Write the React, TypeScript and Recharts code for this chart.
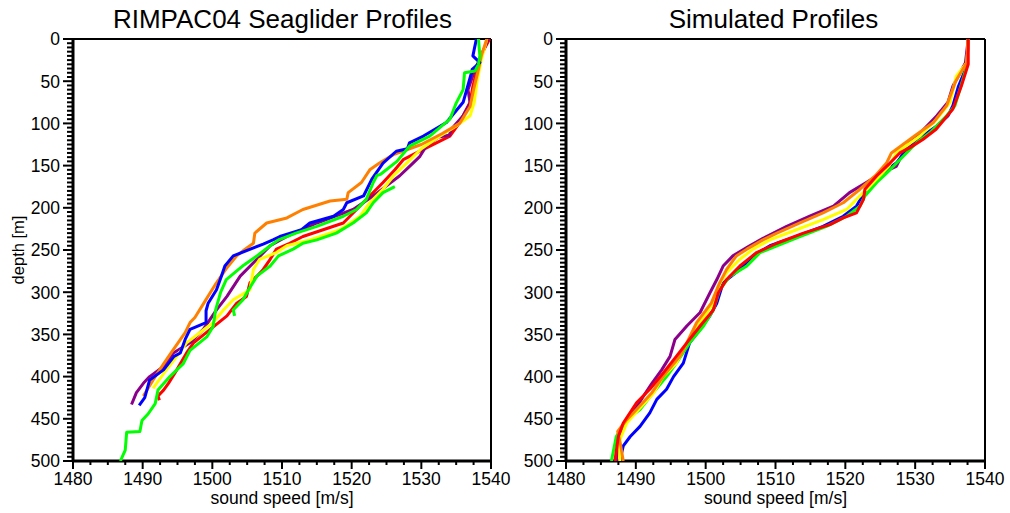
import React from 'react';
import { ScatterChart, Scatter, XAxis, YAxis, ReferenceLine, Label } from 'recharts';

// ---- axis ticks ----
const speedMajorTicks = [1480, 1490, 1500, 1510, 1520, 1530, 1540];
const depthMajorTicks = [0, 50, 100, 150, 200, 250, 300, 350, 400, 450, 500];
const speedTicks: number[] = [];
for (let v = 1480; v <= 1540; v += 2.5) speedTicks.push(v);
const depthTicks: number[] = [];
for (let v = 0; v <= 500; v += 5) depthTicks.push(v);

// ---- RIMPAC04 Seaglider profiles: [sound speed m/s, depth m] ----
const seaRed: [number, number][] = [[1539.8,0],[1538.5,20],[1538,36],[1537.4,56],[1537,75],[1535.5,99],[1534.1,115],[1529.3,135],[1527.4,143],[1526.2,155],[1524.5,170],[1522.6,186],[1520.7,202],[1518.8,218],[1513,234],[1511.1,242],[1509.2,249],[1508.3,261],[1507.3,273],[1506.4,281],[1505.4,289],[1504.9,305],[1503.5,313],[1502.1,328],[1499.7,344],[1497.3,360],[1496.3,372],[1494.9,392],[1493.7,408],[1493,416],[1492.2,423],[1492.4,428]];
const seaPurple: [number, number][] = [[1539.6,0],[1538.6,20],[1537.7,36],[1537.2,48],[1536.7,60],[1537,76],[1536,91],[1534.3,107],[1534,114],[1532.5,116],[1530.7,127],[1529.8,139],[1528.8,147],[1526.9,162],[1525,174],[1523.1,186],[1520.2,202],[1515,218],[1510.7,234],[1508.3,245],[1506.4,261],[1504,281],[1502.1,305],[1500.6,321],[1498.7,344],[1496.8,360],[1494.4,372],[1493,388],[1491,400],[1490.1,408],[1489.1,419],[1488.4,433]];
const seaYellow: [number, number][] = [[1539.4,0],[1538.6,25],[1538,50],[1537.6,75],[1537,91],[1535,103],[1532.7,115],[1530,130],[1527.9,147],[1526,162],[1524.5,178],[1522.6,194],[1521.2,210],[1518.3,226],[1514,238],[1510.7,245],[1509.2,253],[1506.8,261],[1505.9,273],[1505.4,297],[1503,309],[1501.6,321],[1500.1,336],[1498.2,348],[1496.3,360],[1494.9,376],[1493.4,392],[1492,408],[1491.5,414]];
const seaOrange: [number, number][] = [[1539.4,0],[1538.6,20],[1538.2,36],[1537.5,60],[1537,80],[1535.5,100],[1533,112],[1530,125],[1526,137],[1524,147],[1522.6,155],[1521.4,170],[1519.5,182],[1519.3,190],[1516.9,192],[1513,202],[1510.7,212],[1507.8,218],[1506.1,230],[1505.9,242],[1504.7,249],[1503.5,257],[1502,272],[1500.5,290],[1499,310],[1497.5,330],[1496.8,336],[1496.1,348],[1494.4,368],[1493,385],[1491.5,404],[1490.1,423]];
const seaBlue: [number, number][] = [[1537.9,0],[1537.4,20],[1538.4,28],[1537.3,36],[1537.2,40],[1536,75],[1533.6,99],[1530.3,115],[1528.3,123],[1528,130],[1526.4,133],[1524.5,147],[1522.9,166],[1521.7,186],[1519.3,194],[1518.8,202],[1517.4,210],[1514,218],[1512.8,226],[1509.7,234],[1508.7,238],[1507.3,243],[1503,257],[1501.8,269],[1501.3,281],[1500.6,297],[1499.4,313],[1499.1,322],[1499.1,336],[1496.8,344],[1496.1,356],[1495.4,372],[1494.5,376],[1493,392],[1491,404],[1490.6,416],[1490.3,425],[1489.5,434]];
const seaGreenA: [number, number][] = [[1538.2,0],[1538.4,20],[1538.2,30],[1537.7,38],[1536.2,40],[1536,60],[1535,76],[1534.1,95],[1531.2,115],[1528.3,127],[1526.5,145],[1524.2,160],[1523.6,162],[1523.1,170],[1522.1,190],[1520.7,202],[1518.8,210],[1515,222],[1512,230],[1509.5,238],[1508.3,245],[1506.4,257],[1504.5,268],[1502,285],[1501.2,300],[1500.5,320],[1500.1,341],[1499.2,353],[1496.8,369],[1495.8,385],[1493.9,400],[1492.2,416],[1491.8,432],[1490.8,444],[1489.9,452],[1489.6,465],[1487.7,466],[1487.5,487],[1486.8,500]];
const seaGreenB: [number, number][] = [[1526.2,175],[1524.5,182],[1523.1,194],[1522.1,206],[1520.2,218],[1517.8,230],[1515,238],[1513,242],[1511.6,249],[1509.5,257],[1508.3,269],[1506.4,281],[1505.2,297],[1504.4,309],[1503,321],[1503.2,328]];

// ---- Simulated profiles ----
const simPurple: [number, number][] = [[1537.6,0],[1537.2,28],[1535.4,56],[1534.7,75],[1533.1,91],[1531,109],[1528.8,127],[1528,139],[1527.3,151],[1525.4,158],[1523,170],[1520.6,182],[1518.3,198],[1514.9,210],[1511.6,222],[1508.7,234],[1506.3,245],[1503.9,257],[1502.5,269],[1501.6,285],[1500.6,301],[1499.2,324],[1497.3,340],[1495.6,356],[1494.9,376],[1493.7,392],[1492.3,408],[1491.1,423],[1489.6,443],[1488.2,459],[1487.5,479],[1487.2,500]];
const simBlue: [number, number][] = [[1537.6,0],[1537.4,32],[1536.2,56],[1535.4,79],[1534.7,91],[1533.1,103],[1531.1,115],[1528.8,131],[1527.3,147],[1525.4,158],[1523,178],[1521.6,198],[1519.7,210],[1516.8,222],[1513,234],[1509.2,245],[1506.8,257],[1504.9,273],[1502.5,289],[1501.6,313],[1500.6,328],[1499.2,344],[1497.7,360],[1496.8,384],[1495.4,400],[1494.4,415],[1493,427],[1492,443],[1490.6,459],[1489.2,471],[1488.2,482],[1487.7,500]];
const simGreen: [number, number][] = [[1537.6,0],[1537.4,32],[1536.4,60],[1535.7,79],[1534.5,91],[1532.1,111],[1530.2,123],[1528.3,139],[1526.4,155],[1524.5,170],[1522.8,186],[1522.1,198],[1520.2,210],[1517.3,222],[1513.5,234],[1510.2,245],[1507.8,253],[1505.9,269],[1503.5,281],[1502,297],[1501.1,321],[1499.7,340],[1497.7,360],[1495.8,384],[1494.4,400],[1492.5,419],[1490.6,439],[1488.7,451],[1487.2,471],[1486.5,500]];
const simYellow: [number, number][] = [[1537.6,0],[1537.4,28],[1535.9,44],[1535,75],[1533.1,95],[1530.7,115],[1527.3,135],[1526.3,150],[1524,170],[1521.6,190],[1520.2,202],[1516.8,214],[1513,226],[1509.2,238],[1506.8,249],[1504.9,261],[1503,277],[1501.8,293],[1501.1,313],[1499.2,336],[1497.3,360],[1495.8,384],[1493.9,400],[1492.5,420],[1490.3,440],[1488.7,455],[1487.7,475],[1487.7,500]];
const simOrange: [number, number][] = [[1537.6,0],[1537.4,28],[1535.8,50],[1534.5,79],[1532.6,99],[1529.9,115],[1526.6,135],[1525.9,147],[1524.3,162],[1522.1,178],[1519.7,194],[1516.8,206],[1513.5,218],[1510.2,230],[1508.2,238],[1505.9,249],[1504.4,257],[1503,273],[1502,289],[1500.8,313],[1498.7,336],[1497.3,360],[1496.3,376],[1493.9,400],[1492.3,419],[1490.1,439],[1488.6,452],[1487.4,465],[1487.8,480],[1488.2,500]];
const simRed: [number, number][] = [[1537.6,0],[1537.6,30],[1536.6,56],[1535.4,83],[1533,107],[1531.1,119],[1529.2,129],[1527.8,135],[1526.4,147],[1524.5,162],[1522.8,178],[1522.6,190],[1521.6,206],[1519.7,212],[1517.8,220],[1514,230],[1510.2,242],[1507.3,253],[1504.9,269],[1503,285],[1501.8,301],[1501.1,321],[1499.2,340],[1497.3,360],[1495.8,376],[1493.9,396],[1492,415],[1490.1,431],[1488.2,455],[1487.5,471],[1487,500]];

const RED = '#ff0000';
const ORANGE = '#ff8000';
const YELLOW = '#ffff00';
const GREEN = '#00ff00';
const BLUE = '#0000ff';
const PURPLE = '#8b008b';

const seaSeries: { name: string; color: string; pts: [number, number][] }[] = [
  { name: 'red', color: RED, pts: seaRed },
  { name: 'purple', color: PURPLE, pts: seaPurple },
  { name: 'yellow', color: YELLOW, pts: seaYellow },
  { name: 'orange', color: ORANGE, pts: seaOrange },
  { name: 'greenB', color: GREEN, pts: seaGreenB },
  { name: 'blue', color: BLUE, pts: seaBlue },
  { name: 'greenA', color: GREEN, pts: seaGreenA },
];
const simSeries: { name: string; color: string; pts: [number, number][] }[] = [
  { name: 'purple', color: PURPLE, pts: simPurple },
  { name: 'blue', color: BLUE, pts: simBlue },
  { name: 'green', color: GREEN, pts: simGreen },
  { name: 'yellow', color: YELLOW, pts: simYellow },
  { name: 'orange', color: ORANGE, pts: simOrange },
  { name: 'red', color: RED, pts: simRed },
];

const FONT = '"Liberation Sans", Arial, Helvetica, sans-serif';
const FS = 17.5;

const XTick = (p: any) => {
  const { x, y, payload } = p;
  const v = payload.value as number;
  const major = speedMajorTicks.includes(v);
  return (
    <g>
      <line x1={x} x2={x} y1={y} y2={y + (major ? 8 : 4)} stroke="#000" strokeWidth={2} />
      {major && (
        <text x={x} y={y + 24} textAnchor="middle" fontSize={FS} fontFamily={FONT} fill="#000">
          {v}
        </text>
      )}
    </g>
  );
};

const YTick = (p: any) => {
  const { x, y, payload } = p;
  const v = payload.value as number;
  const major = depthMajorTicks.includes(v);
  return (
    <g>
      <line x1={x - (major ? 10 : 6)} x2={x + (major ? 0 : 1)} y1={y} y2={y} stroke="#000" strokeWidth={2} />
      {major && (
        <text x={x - 13} y={y} dy="0.36em" textAnchor="end" fontSize={FS} fontFamily={FONT} fill="#000">
          {v}
        </text>
      )}
    </g>
  );
};

const noShape = () => <g />;

const YLabelContent = (props: any) => {
  const vb = props.viewBox || { x: 13, y: 39, width: 60, height: 422 };
  const cx = vb.x + 5;
  const cy = vb.y + vb.height / 2;
  return (
    <text
      x={cx}
      y={cy}
      transform={`rotate(-90, ${cx}, ${cy})`}
      textAnchor="middle"
      dominantBaseline="central"
      fontSize={16.5}
      fontFamily={FONT}
      fill="#000"
    >
      depth [m]
    </text>
  );
};

function Panel({
  series,
  width,
  margin,
  yLabel,
}: {
  series: { name: string; color: string; pts: [number, number][] }[];
  width: number;
  margin: { top: number; right: number; bottom: number; left: number };
  yLabel: boolean;
}) {
  return (
    <ScatterChart width={width} height={513} margin={margin}>
      <XAxis
        type="number"
        dataKey="c"
        domain={[1480, 1540]}
        ticks={speedTicks}
        interval={0}
        allowDataOverflow
        height={30}
        tickSize={0}
        tickMargin={0}
        tick={XTick}
        axisLine={{ stroke: '#000', strokeWidth: 3 }}
        tickLine={false}
      >
        <Label
          value="sound speed [m/s]"
          position="bottom"
          offset={1}
          style={{ fontSize: FS, fontFamily: FONT, fill: '#000' }}
        />
      </XAxis>
      <YAxis
        type="number"
        dataKey="d"
        domain={[0, 500]}
        reversed
        ticks={depthTicks}
        interval={0}
        allowDataOverflow
        width={60}
        tickSize={0}
        tickMargin={0}
        tick={YTick}
        axisLine={{ stroke: '#000', strokeWidth: 3 }}
        tickLine={false}
      >
        {yLabel && <Label content={YLabelContent} />}
      </YAxis>
      <ReferenceLine y={0} stroke="#000" strokeWidth={2} ifOverflow="visible" />
      <ReferenceLine x={1540} stroke="#000" strokeWidth={2} ifOverflow="visible" />
      {series.map((s) => (
        <Scatter
          key={s.name}
          name={s.name}
          data={s.pts.map(([c, d]) => ({ c, d }))}
          line={{ stroke: s.color, strokeWidth: 3, strokeLinejoin: 'round' } as any}
          lineType="joint"
          shape={noShape}
          fill={s.color}
          isAnimationActive={false}
        />
      ))}
    </ScatterChart>
  );
}

const titleStyle: React.CSSProperties = {
  position: 'absolute',
  top: 6,
  width: 505,
  textAlign: 'center',
  fontFamily: FONT,
  fontSize: 26,
  lineHeight: '26px',
  color: '#000',
  whiteSpace: 'nowrap',
};

export default function App() {
  return (
    <div style={{ position: 'absolute', left: 0, top: 0, width: 1010, height: 513, background: '#fff', overflow: 'hidden' }}>
      <div style={{ position: 'absolute', left: 505, top: 0 }}>
        <Panel series={simSeries} width={505} margin={{ top: 39, right: 25, bottom: 22, left: 1 }} yLabel={false} />
      </div>
      <div style={{ position: 'absolute', left: 0, top: 0 }}>
        <Panel series={seaSeries} width={522} margin={{ top: 39, right: 31, bottom: 22, left: 13 }} yLabel />
      </div>
      <div style={{ ...titleStyle, left: 30 }}>RIMPAC04 Seaglider Profiles</div>
      <div style={{ ...titleStyle, left: 521 }}>Simulated Profiles</div>
    </div>
  );
}
